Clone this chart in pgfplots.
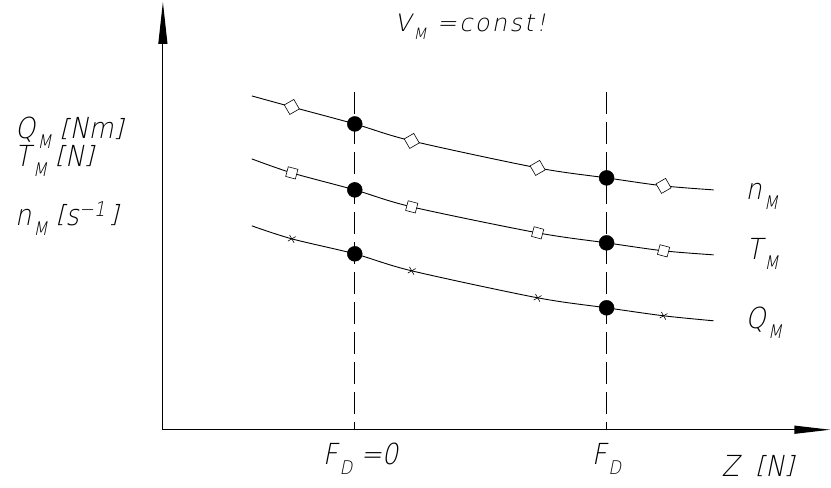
\documentclass[border=0pt]{standalone}
\usepackage{pgfplots}
\pgfplotsset{compat=1.18}
\usetikzlibrary{arrows.meta}
\usepackage{fontspec}
\setmainfont{DejaVu Sans ExtraLight}[FakeSlant=0.2, FakeStretch=0.88]
\newfontfamily\titlefont{DejaVu Sans ExtraLight}[FakeSlant=0.2, LetterSpace=10]
\newcommand\sub[1]{\kern2pt\raisebox{-0.6ex}{\scalebox{0.65}{#1}}}
\newcommand\lb{\raisebox{0.1em}{\scalebox{1}[0.82]{[}}}
\newcommand\rb{\raisebox{0.1em}{\scalebox{1}[0.82]{]}}}

\begin{document}
\begin{tikzpicture}[lbl/.style={inner sep=0pt, anchor=base west, font=\fontsize{29}{32}\selectfont}]
\begin{axis}[
    scale only axis, width=831pt, height=488pt,
    xmin=0, xmax=831, ymin=0, ymax=488, y dir=reverse,
    hide axis, clip=false,
]
\path (axis cs:0,0) (axis cs:831,488);
% axes
\draw[line width=1.1pt, -{Triangle[length=36pt,width=8pt]}] (axis cs:163,430) -- (axis cs:831,430);
\draw[line width=1.1pt, -{Triangle[length=42pt,width=9pt]}] (axis cs:163,430) -- (axis cs:163,2);
% F_D lines
\addplot[black, line width=0.8pt, dash pattern=on 22pt off 8pt] coordinates {(355,92) (355,430)};
\addplot[black, line width=0.8pt, dash pattern=on 22pt off 8pt] coordinates {(607,92) (607,430)};
% n_M
\addplot[black, line width=0.9pt, smooth] coordinates {(252,96) (292,107) (355,124) (412,141) (538,168) (607,178) (664,186) (714,190)};
\addplot[only marks, mark=square*, mark size=5.5pt, mark options={fill=white, draw=black, line width=0.6pt, rotate=30}] coordinates {(292,107) (412,141) (538,168) (664,186)};
% T_M
\addplot[black, line width=0.9pt, smooth] coordinates {(252,159) (292,173) (355,190) (412,207) (538,233) (607,243) (664,251) (714,255)};
\addplot[only marks, mark=square*, mark size=5pt, mark options={fill=white, draw=black, line width=0.6pt, rotate=-15}] coordinates {(292,173) (412,207) (538,233) (664,251)};
% Q_M
\addplot[black, line width=0.9pt, smooth] coordinates {(252,226) (292,239) (355,254) (412,271) (538,298) (607,308) (664,316) (714,321)};
\addplot[only marks, mark=x, mark size=4.5pt, mark options={black, line width=0.6pt, rotate=-15}] coordinates {(292,239) (412,271) (538,298) (664,316)};
% operating points
\addplot[only marks, mark=*, mark size=7.5pt, black] coordinates {(355,124) (355,190) (355,254) (607,178) (607,243) (607,308)};
% labels
\node[lbl, font=\titlefont\fontsize{24}{26}\selectfont] at (axis cs:395,32) {V\sub{M} =const!};
\node[lbl] at (axis cs:15,139) {Q\sub{M} \lb Nm\rb};
\node[lbl] at (axis cs:15,167) {T\sub{M} \lb N\rb};
\node[lbl] at (axis cs:15,226) {n\sub{M} \lb s\textsuperscript{−1}\kern3pt\rb};
\node[lbl] at (axis cs:746,200) {n\sub{M}};
\node[lbl] at (axis cs:747,260) {T\sub{M}};
\node[lbl] at (axis cs:746,329) {Q\sub{M}};
\node[lbl] at (axis cs:323,465) {F\sub{D} =0};
\node[lbl] at (axis cs:592,465) {F\sub{D}};
\node[lbl] at (axis cs:722,477) {Z\ \ \lb N\rb};
\end{axis}
\end{tikzpicture}
\end{document}
